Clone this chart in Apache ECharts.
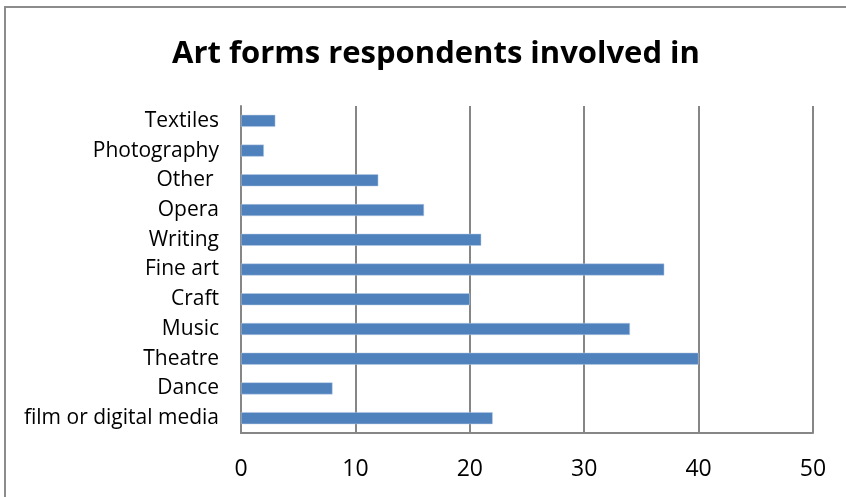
<!DOCTYPE html>
<html>
<head>
<meta charset="utf-8">
<script src="https://cdn.jsdelivr.net/npm/echarts@6/dist/echarts.min.js"></script>
<style>html,body{margin:0;padding:0;background:#fff}#c{width:846px;height:497px}</style>
</head>
<body>
<div id="c"></div>
<script>
var categories = ["Textiles","Photography","Other ","Opera","Writing","Fine art","Craft","Music","Theatre","Dance","film or digital media"];
var values = [3,2,12,16,21,37,20,34,40,8,22];
var xTicks = {min:0, max:50, interval:10};
var titleText = "Art forms respondents involved in";

var chart = echarts.init(document.getElementById('c'), null, {renderer:'canvas'});
chart.setOption({
  animation:false,
  backgroundColor:'#fff',
  graphic:[{type:'rect', shape:{x:5,y:7,width:900,height:600}, style:{fill:'none', stroke:'#8c8c8c', lineWidth:2}, silent:true}],
  title:{text:titleText, left:167, top:34, textStyle:{fontFamily:'Open Sans', fontWeight:'bold', fontSize:31, color:'#000'}},
  grid:{left:241, right:33, top:106, bottom:64, containLabel:false},
  xAxis:{type:'value', min:xTicks.min, max:xTicks.max, interval:xTicks.interval,
    axisLine:{show:true, lineStyle:{color:'#868686', width:2}},
    axisTick:{show:false},
    splitLine:{show:true, lineStyle:{color:'#868686', width:2}},
    axisLabel:{fontFamily:'Open Sans', fontSize:23, color:'#000', margin:25}},
  yAxis:{type:'category', data:categories, inverse:true,
    axisLine:{show:true, lineStyle:{color:'#868686', width:2}},
    axisTick:{show:false},
    axisLabel:{fontFamily:'Open Sans', fontSize:21, color:'#000', margin:22, padding:[3,0,0,0]}},
  series:[{type:'bar', data:values, barWidth:12, itemStyle:{color:'#4f81bd', borderColor:'#b9cde5', borderWidth:0.5}}]
});
</script>
</body>
</html>
